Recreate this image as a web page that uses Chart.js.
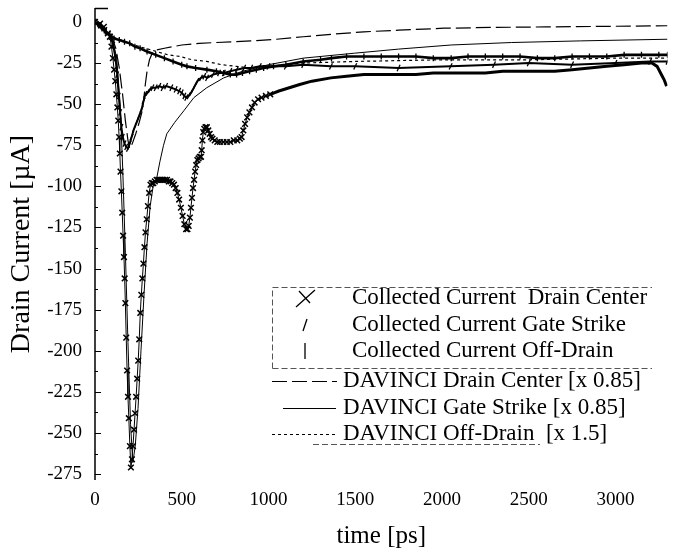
<!DOCTYPE html>
<html><head><meta charset="utf-8">
<script src="https://cdn.jsdelivr.net/npm/chart.js@4.4.1/dist/chart.umd.min.js"></script>
<style>html,body{margin:0;padding:0;background:#fff}#wrap{width:673px;height:551px}</style>
</head><body><div id="wrap"><canvas id="c" width="673" height="551"></canvas></div>
<script>
// ---- data (time in ps, current in µA) ----
const xTicks = [0, 500, 1000, 1500, 2000, 2500, 3000];
const xTickLabels = ['0', '500', '1000', '1500', '2000', '2500', '3000'];
const yTicks = [0, -25, -50, -75, -100, -125, -150, -175, -200, -225, -250, -275];
const yTickLabels = ['0', '-25', '-50', '-75', '-100', '-125', '-150', '-175', '-200', '-225', '-250', '-275'];

const seriesLabels = [
  'Collected Current  Drain Center',
  'Collected Current Gate Strike',
  'Collected Current Off-Drain',
  'DAVINCI Drain Center [x 0.85]',
  'DAVINCI Gate Strike [x 0.85]',
  'DAVINCI Off-Drain  [x 1.5]'
];

// Collected current, drain center strike (x markers)
const dcT = [0,29,51,74,86,95,103,110,117,123,129,134,139,143,147,152,157,162,167,171,175,180,185,190,195,201,207,
  213,219,225,231,237,243,249,255,261,267,273,279,285,291,298,305,312,320,
  328,336,345,355,365,375,385,395,405,415,425,435,445,455,465,475,485,495,505,515,525,533,540,547,553,559,565,571,577,583,590,597,604,611,615,619,624,630,637,645,653,661,669,677,690,705,720,740,760,780,800,820,835,845,855,865,877,890,905,920,940,960,985,1010,
  1060,1120,1180,1250,1360,1450,1550,1650,1750,1850,1950,2050,2150,2250,2350,2450,2550,2650,2750,2850,2950,3050,3150,3210,3240,3260,3280,3295];
const dcV = [0,-1,-3,-7,-9,-15,-22,-29,-36,-44,-52,-60,-70,-80,-91,-103,-116,-130,-143,-156,-171,-192,-212,-228,-241,-258,-271,
  -266,-258,-248,-238,-228,-217,-206,-193,-177,-166,-156,-147,-137,-128,-120,-112,-104,-99,
  -98,-98,-97,-96,-96,-96,-96,-96,-96,-96,-97,-97,-98,-99,-101,-104,-108,-113,-118,-123,-126,-126,-124,-119,-113,-107,-101,-96,-91,-87,-84,-83,-82,-82,-78,-72,-67,-65,-64,-64,-66,-68,-70,-71,-72,-73,-73,-73,-73,-73,-72,-72,-71,-70,-66,-62,-58,-55,-52,-49,-47,-46,-45,-44,
  -42,-40,-38,-36,-34,-33,-32,-32,-32,-32,-31,-31,-31,-31,-30,-30,-30,-30,-29,-28,-27,-26,-25,-25,-27,-31,-35,-39];

// Collected current, gate strike (/ markers)
const gsT = [0,30,60,90,105,118,128,137,145,152,160,170,180,190,200,211,225,240,255,269,280,290,303,317,331,350,371,390,410,440,465,485,500,515,526,540,554,565,575,590,611,630,646,680,715,743,780,817,860,900,950,1000,1100,1200,1360,1500,1750,2050,2300,2500,2750,3000,3200,3300];
const gsV = [0,-2,-5,-9,-14,-22,-32,-45,-55,-64,-70,-74,-76,-77,-74,-70,-65,-61,-57,-53,-48,-44,-43,-41,-40,-40,-39,-40,-39,-40,-41,-42,-43,-45,-46,-45,-43,-41,-39,-36,-34,-33,-34,-32,-31,-31,-30,-29,-28,-28,-27,-27,-27,-26,-27,-27,-28,-27,-26,-25,-26,-25,-24,-24];

// Collected current, off-drain strike (| markers)
const odT = [0,20,40,60,86,110,140,170,200,230,260,300,350,400,450,500,530,580,645,700,742,780,816,850,891,930,972,1029,1100,1200,1300,1363,1450,1550,1650,1750,1850,1950,2053,2150,2250,2350,2450,2550,2650,2750,2850,2950,3050,3150,3250,3300];
const odV = [0,-2,-4,-6,-8,-10,-11,-12,-13,-15,-16,-18,-20,-22,-24,-26,-27,-28,-29,-30,-31,-32,-32,-31,-30,-29,-28,-27,-26,-24,-23,-22,-21,-21,-21,-21,-21,-22,-22,-21,-21,-21,-21,-22,-22,-21,-21,-21,-20,-20,-20,-20];

// DAVINCI simulation, drain center (long dash)
const davDcT = [0,50,100,120,140,160,175,190,200,215,235,255,270,280,290,300,314,330,354,400,450,500,600,700,800,900,1046,1200,1363,1550,1750,2012,2300,2600,2900,3300];
const davDcV = [0,-5,-10,-16,-28,-45,-60,-72,-77,-74,-68,-61,-55,-48,-38,-30,-23,-19,-17,-16,-15,-14,-13,-12.5,-12,-11.5,-10.5,-9,-7.5,-6,-5,-3.8,-3.3,-3,-2.7,-2.3];

// DAVINCI simulation, gate strike (solid)
const davGsT = [0,50,100,125,145,160,175,190,205,218,232,248,265,283,300,318,335,352,374,395,414,460,512,570,644,742,850,1000,1200,1495,1750,2053,2400,2800,3300];
const davGsV = [0,-5,-10,-22,-50,-90,-140,-195,-245,-268,-258,-235,-200,-165,-135,-112,-100,-97,-85,-75,-68,-61,-54,-46,-40,-34,-30,-26,-22,-19,-16.5,-14,-12.5,-11.5,-10.5];

// DAVINCI simulation, off-drain (dotted)
const davOdT = [0,30,60,100,150,225,290,356,420,490,560,644,730,816,900,1000,1200,1500,2000,2500,3000,3300];
const davOdV = [0,-3,-6,-9,-11,-14,-16,-18,-20,-21,-23,-24,-26,-27,-28,-27,-25,-24,-23,-23,-22,-22];

function pts(t, v) { return t.map((x, i) => ({ x: x, y: v[i] })); }

const serif = "'Liberation Serif','Times New Roman',serif";
const ink = '#000';

// inward axis ticks and y axis line
const axisPlugin = {
  id: 'axisPlugin',
  afterDraw(chart) {
    const ctx = chart.ctx, a = chart.chartArea, ys = chart.scales.y;
    ctx.save();
    ctx.strokeStyle = ink;
    ctx.lineWidth = 1.5;
    ctx.beginPath();
    ctx.moveTo(a.left, a.top); ctx.lineTo(a.left, a.bottom);
    ctx.moveTo(a.left, a.top + 0.5); ctx.lineTo(a.left + 13, a.top + 0.5);
    ctx.stroke();
    ctx.lineWidth = 1;
    ctx.beginPath();
    yTicks.forEach(v => {
      const y = Math.round(ys.getPixelForValue(v)) + 0.5;
      ctx.moveTo(a.left, y); ctx.lineTo(a.left + 6, y);
      const ym = Math.round(ys.getPixelForValue(v - 12.5)) + 0.5;
      if (ym < a.bottom) { ctx.moveTo(a.left, ym); ctx.lineTo(a.left + 3, ym); }
    });
    ctx.stroke();
    ctx.restore();
  }
};

// legend drawn inside the plot like the original figure
const legendPlugin = {
  id: 'legendPlugin',
  afterDraw(chart) {
    const ctx = chart.ctx;
    const ds = chart.data.datasets;
    ctx.save();
    ctx.strokeStyle = '#555';
    ctx.lineWidth = 1;
    ctx.setLineDash([6, 3]);
    ctx.beginPath();
    ctx.moveTo(272.5, 368.5); ctx.lineTo(272.5, 287.5); ctx.lineTo(652, 287.5);
    ctx.moveTo(272.5, 368.5); ctx.lineTo(652, 368.5);
    ctx.moveTo(313, 444.5); ctx.lineTo(540, 444.5);
    ctx.stroke();
    ctx.setLineDash([]);
    ctx.strokeStyle = ink;
    ctx.lineWidth = 1.3;
    ctx.beginPath();
    ctx.moveTo(296, 307); ctx.lineTo(315, 290);
    ctx.moveTo(299, 291); ctx.lineTo(310, 303);
    ctx.moveTo(303, 331); ctx.lineTo(307, 319);
    ctx.moveTo(305, 343); ctx.lineTo(305, 359);
    ctx.stroke();
    ctx.lineWidth = 1.2;
    ctx.setLineDash(ds[3].borderDash);
    ctx.beginPath(); ctx.moveTo(272, 381.5); ctx.lineTo(337, 381.5); ctx.stroke();
    ctx.setLineDash([]);
    ctx.beginPath(); ctx.moveTo(283, 408.5); ctx.lineTo(336, 408.5); ctx.stroke();
    ctx.setLineDash(ds[5].borderDash);
    ctx.beginPath(); ctx.moveTo(272, 434.5); ctx.lineTo(337, 434.5); ctx.stroke();
    ctx.setLineDash([]);
    ctx.fillStyle = ink;
    ctx.font = '23px ' + serif;
    ctx.textBaseline = 'middle';
    ctx.textAlign = 'left';
    const rows = [[352, 298], [352, 325], [352, 351], [343, 381], [343, 408], [343, 434]];
    rows.forEach((r, i) => ctx.fillText(ds[i].label, r[0], r[1]));
    ctx.restore();
  }
};

new Chart(document.getElementById('c').getContext('2d'), {
  type: 'line',
  data: {
    datasets: [
      { label: seriesLabels[0], data: pts(dcT, dcV), borderColor: ink, backgroundColor: ink,
        borderWidth: 1, pointStyle: 'crossRot', pointBorderColor: ink, pointBorderWidth: 1.5,
        pointRadius: c => (c.raw && c.raw.x > 1015) ? 0 : 4,
        segment: { borderWidth: c => c.p0.parsed.x >= 1010 ? 3 : 1 } },
      { label: seriesLabels[1], data: pts(gsT, gsV), borderColor: ink, backgroundColor: ink,
        borderWidth: 2, pointStyle: 'line', pointRotation: -65, pointRadius: 3.5,
        pointBorderColor: ink, pointBorderWidth: 1.3 },
      { label: seriesLabels[2], data: pts(odT, odV), borderColor: ink, backgroundColor: ink,
        borderWidth: 2.6, pointStyle: 'line', pointRotation: 90, pointRadius: 3,
        pointBorderColor: ink, pointBorderWidth: 1.3 },
      { label: seriesLabels[3], data: pts(davDcT, davDcV), borderColor: ink, borderWidth: 1.2,
        borderDash: [15, 5], pointRadius: 0 },
      { label: seriesLabels[4], data: pts(davGsT, davGsV), borderColor: ink, borderWidth: 1,
        borderDash: [], pointRadius: 0 },
      { label: seriesLabels[5], data: pts(davOdT, davOdV), borderColor: ink, borderWidth: 1.2,
        borderDash: [3, 3], pointRadius: 0 }
    ]
  },
  options: {
    responsive: false,
    animation: false,
    layout: { padding: { top: 8, right: 0, bottom: 0, left: 0 } },
    elements: { line: { tension: 0, fill: false } },
    plugins: { legend: { display: false }, tooltip: { enabled: false } },
    scales: {
      x: {
        type: 'linear', min: 0, max: 3300,
        afterBuildTicks: s => { s.ticks = xTicks.map(v => ({ value: v })); },
        afterFit: s => { s.height = 71; s.paddingLeft = 0; s.paddingRight = 0; },
        grid: { display: false, drawTicks: false },
        border: { display: false },
        ticks: { color: ink, font: { family: serif, size: 19 }, padding: 9, maxRotation: 0,
          callback: (v, i) => xTickLabels[i] },
        title: { display: true, text: 'time [ps]', color: ink, font: { family: serif, size: 25 },
          padding: { top: 0, bottom: 0 } }
      },
      y: {
        type: 'linear', min: -278.6, max: 8.5,
        afterBuildTicks: s => { s.ticks = yTicks.map(v => ({ value: v })); },
        afterFit: s => { s.width = 95; s.paddingTop = 0; s.paddingBottom = 0; },
        grid: { display: false, drawTicks: false },
        border: { display: false },
        ticks: { color: ink, font: { family: serif, size: 19 }, padding: 13,
          callback: (v, i) => yTickLabels[i] },
        title: { display: true, text: 'Drain Current [µA]', color: ink, font: { family: serif, size: 28 },
          padding: { top: 5, bottom: 0 } }
      }
    }
  },
  plugins: [axisPlugin, legendPlugin]
});
</script>
</body></html>
